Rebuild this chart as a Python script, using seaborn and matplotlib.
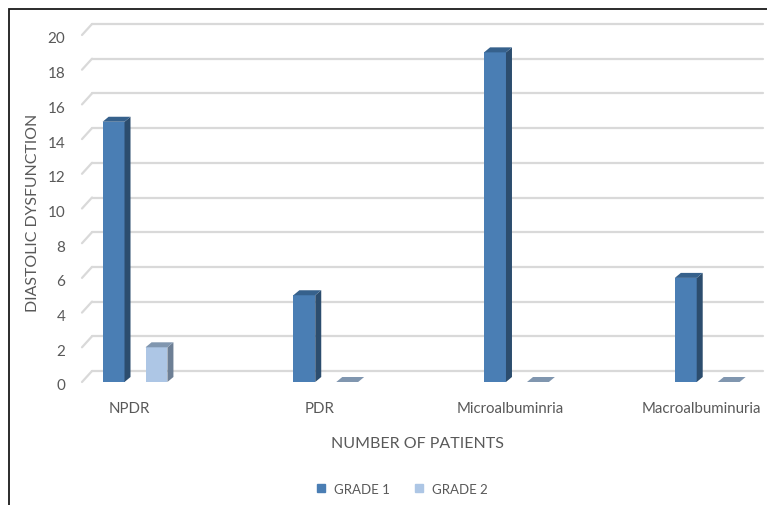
import numpy as np
import pandas as pd
import matplotlib
matplotlib.use("Agg")
import matplotlib.pyplot as plt
import seaborn as sns
from matplotlib.patches import Polygon, Rectangle
from matplotlib.lines import Line2D
from matplotlib.transforms import IdentityTransform, ScaledTranslation

# ---- data ----
categories = ["NPDR", "PDR", "Microalbuminria", "Macroalbuminuria"]
series = ["GRADE 1", "GRADE 2"]
grade1 = [15, 5, 19, 6]
grade2 = [2, 0, 0, 0]
yticks = [0, 2, 4, 6, 8, 10, 12, 14, 16, 18, 20]

df = pd.DataFrame({
    "category": categories * 2,
    "grade": [series[0]] * len(categories) + [series[1]] * len(categories),
    "value": grade1 + grade2,
})

# ---- style ----
front = {"GRADE 1": "#4A7EB4", "GRADE 2": "#ADC6E5"}
side = {"GRADE 1": "#2C4D6E", "GRADE 2": "#6D7F95"}
top = {"GRADE 1": "#36618C", "GRADE 2": "#8096AF"}
text_col = "#595959"
grid_col = "#D9D9D9"

sns.set_theme(style="white")
plt.rcParams['font.family'] = ['Lato', 'DejaVu Sans']

W, H = 767, 506
fig = plt.figure(figsize=(W / 100, H / 100), dpi=100)
ax = fig.add_axes([82 / W, (H - 383) / H, (753 - 82) / W, (383 - 36) / H])

sns.barplot(data=df, x="category", y="value", hue="grade", order=categories,
            hue_order=series, palette=front, width=0.45, gap=0.49,
            saturation=1, linewidth=0, ax=ax, legend=False, zorder=3)

ax.set_xlim(-0.278, 3.24)
ax.set_ylim(0, 20)
ax.set_yticks(yticks)
ax.set_yticklabels([str(v) for v in yticks])
ax.tick_params(axis="both", length=0, colors=text_col)
ax.tick_params(axis="y", pad=12, labelsize=11)
ax.tick_params(axis="x", pad=14, labelsize=10.8)
yshift = ScaledTranslation(0, -2 / 100, fig.dpi_scale_trans)
for lbl in ax.get_yticklabels():
    lbl.set_transform(lbl.get_transform() + yshift)
shift = ScaledTranslation(-6 / 100, 0, fig.dpi_scale_trans)
for lbl in ax.get_xticklabels():
    lbl.set_transform(lbl.get_transform() + shift)
for s in ax.spines.values():
    s.set_visible(False)
ax.set_facecolor("none")

ax.set_ylabel("DIASTOLIC DYSFUNCTION", fontsize=11.4, color=text_col)
ax.yaxis.set_label_coords(-0.062, 0.49)
ax.set_xlabel("NUMBER OF PATIENTS", fontsize=11.5, color=text_col)
ax.xaxis.set_label_coords(0.5, -(437 - 383) / 347)

# ---- pseudo 3D walls: gridlines on back plane ----
gdx, gdy = 10, 11
x_left_disp = ax.transAxes.transform((0, 0))[0]
x_right_disp = ax.transAxes.transform((1, 0))[0]
for v in yticks:
    yd = ax.transData.transform((0, v))[1]
    ax.add_line(Line2D([x_left_disp + gdx, x_right_disp + gdx], [yd + gdy, yd + gdy],
                       transform=IdentityTransform(), color=grid_col, lw=1.6,
                       zorder=0, clip_on=False))
    ax.add_line(Line2D([x_left_disp, x_left_disp + gdx], [yd, yd + gdy],
                       transform=IdentityTransform(), color=grid_col, lw=1.6,
                       zorder=0, clip_on=False))

# ---- pseudo 3D bars: side and top faces ----
bdx, bdy = 6, 5
n = len(categories)
for i, p in enumerate(ax.patches[:2 * n]):
    g = series[i // n]
    x0, y0 = p.get_x(), p.get_y()
    x1, y1 = x0 + p.get_width(), y0 + p.get_height()
    (ax0, ay0) = ax.transData.transform((x0, y0))
    (ax1, ay1) = ax.transData.transform((x1, y1))
    sidepoly = [(ax1, ay0), (ax1 + bdx, ay0 + bdy), (ax1 + bdx, ay1 + bdy), (ax1, ay1)]
    toppoly = [(ax0, ay1), (ax1, ay1), (ax1 + bdx, ay1 + bdy), (ax0 + bdx, ay1 + bdy)]
    ax.add_patch(Polygon(sidepoly, closed=True, transform=IdentityTransform(),
                         facecolor=side[g], edgecolor="none", zorder=3, clip_on=False))
    ax.add_patch(Polygon(toppoly, closed=True, transform=IdentityTransform(),
                         facecolor=top[g], edgecolor="none", zorder=3, clip_on=False))

# ---- legend ----
handles = [Line2D([], [], marker="s", linestyle="none", markersize=6,
                  markerfacecolor=front[s], markeredgecolor=front[s]) for s in series]
fig.legend(handles, series, loc="center", bbox_to_anchor=(398 / W, 1 - 490 / H),
           ncol=2, frameon=False, fontsize=9.5, labelcolor=text_col,
           handletextpad=0.0, columnspacing=1.2)

# ---- outer border ----
fig.add_artist(Rectangle((9 / W, -0.1), 1.2, (H - 10) / H + 0.1,
                         transform=fig.transFigure, fill=False,
                         edgecolor="#1a1a1a", lw=1.3))

fig.savefig("out.png", dpi=100)
